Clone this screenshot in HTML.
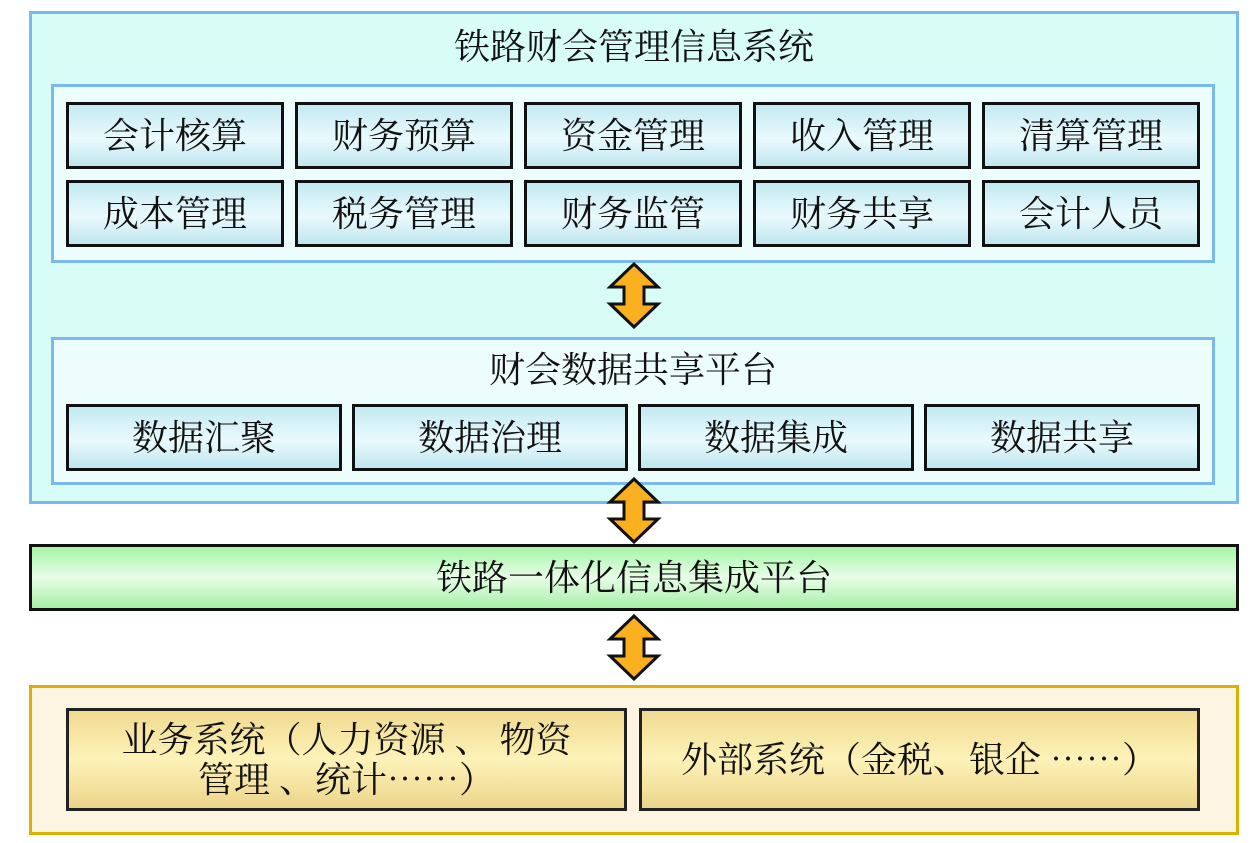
<!DOCTYPE html>
<html><head><meta charset="utf-8"><style>
body{margin:0;width:1260px;height:843px;background:#fff;position:relative;overflow:hidden;font-family:"Liberation Serif","Noto Serif CJK SC","Noto Sans CJK SC",serif;color:#111}
div{position:absolute;box-sizing:border-box}
.t{display:flex;align-items:center;justify-content:center;text-align:center;font-size:36px;line-height:42px}
.m{border:3px solid #111;background:linear-gradient(#c2eaf2,#eafafd 55%,#bfe6ef);}
.y{border:3px solid #222;background:linear-gradient(#f0da90,#fdf2b8 50%,#ecd58a);}
svg{position:absolute}
</style></head><body>
<div style="left:29px;top:11px;width:1210px;height:493px;border:3px solid #7ab8f0;background:#d8fcf6"></div>
<div class="t" style="left:29px;top:26px;width:1210px;height:42px">铁路财会管理信息系统</div>
<div style="left:51px;top:84px;width:1164px;height:179px;border:3px solid #7ab8f0;background:#ecfdfb"></div>
<div class="t m" style="left:66px;top:102px;width:218px;height:67px">会计核算</div>
<div class="t m" style="left:295px;top:102px;width:218px;height:67px">财务预算</div>
<div class="t m" style="left:524px;top:102px;width:218px;height:67px">资金管理</div>
<div class="t m" style="left:753px;top:102px;width:218px;height:67px">收入管理</div>
<div class="t m" style="left:982px;top:102px;width:218px;height:67px">清算管理</div>
<div class="t m" style="left:66px;top:180px;width:218px;height:67px">成本管理</div>
<div class="t m" style="left:295px;top:180px;width:218px;height:67px">税务管理</div>
<div class="t m" style="left:524px;top:180px;width:218px;height:67px">财务监管</div>
<div class="t m" style="left:753px;top:180px;width:218px;height:67px">财务共享</div>
<div class="t m" style="left:982px;top:180px;width:218px;height:67px">会计人员</div>
<div style="left:51px;top:337px;width:1164px;height:148px;border:3px solid #7ab8f0;background:#ecfdfb"></div>
<div class="t" style="left:51px;top:349px;width:1164px;height:42px">财会数据共享平台</div>
<div class="t m" style="left:66px;top:404px;width:276px;height:67px">数据汇聚</div>
<div class="t m" style="left:352px;top:404px;width:276px;height:67px">数据治理</div>
<div class="t m" style="left:638px;top:404px;width:276px;height:67px">数据集成</div>
<div class="t m" style="left:924px;top:404px;width:276px;height:67px">数据共享</div>
<div class="t" style="left:29px;top:544px;width:1210px;height:67px;border:3px solid #111;background:linear-gradient(#a6f5a6,#e8fde8 50%,#a6f0a6)">铁路一体化信息集成平台</div>
<div style="left:29px;top:685px;width:1210px;height:150px;border:3px solid #dcb000;background:#fdf5e2"></div>
<div class="t y" style="left:66px;top:708px;width:561px;height:103px;line-height:40px">业务系统（人力资源 、 物资<br>管理 、统计⋯⋯）</div>
<div class="t y" style="left:639px;top:708px;width:561px;height:103px">外部系统（金税、银企 ⋯⋯）</div>
<svg width="1260" height="843" style="left:0;top:0">
<defs><path id="a" d="M25,1 L49,24 L35,24 L35,41 L49,41 L25,64 L1,41 L15,41 L15,24 L1,24 Z" fill="#fbb020" stroke="#111" stroke-width="3" stroke-linejoin="miter"/></defs>
<use href="#a" x="609" y="263"/>
<use href="#a" x="609" y="478"/>
<use href="#a" x="609" y="615"/>
</svg>
</body></html>
